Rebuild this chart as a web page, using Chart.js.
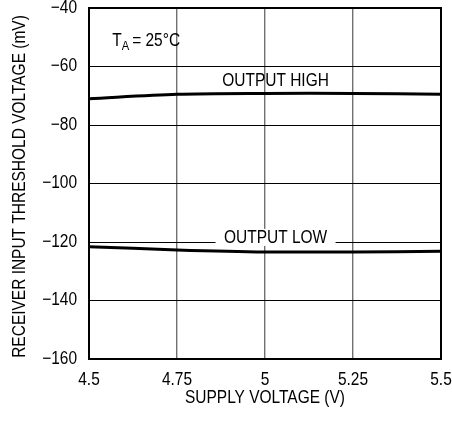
<!DOCTYPE html>
<html>
<head>
<meta charset="utf-8">
<script src="https://cdn.jsdelivr.net/npm/chart.js@4/dist/chart.umd.min.js"></script>
<style>
  html, body { margin: 0; padding: 0; background: #fff; }
  #wrap { width: 452px; height: 421px; }
</style>
</head>
<body>
<div id="wrap"><canvas id="chart" width="452" height="421"></canvas></div>
<script>
const SUPPLY_V = [4.5, 4.75, 5, 5.25, 5.5];
const OUTPUT_HIGH = [-71, -69.5, -69.2, -69.2, -69.5];
const OUTPUT_LOW = [-121.6, -122.7, -123.4, -123.4, -123.2];
const X_TICKS = [4.5, 4.75, 5, 5.25, 5.5];
const X_TITLE = "SUPPLY VOLTAGE (V)";
const Y_TITLE = "RECEIVER INPUT THRESHOLD VOLTAGE (mV)";

const FONT = "'Liberation Sans', Arial, sans-serif";
const SQUEEZE = 0.86; // no narrow face installed, so squeeze horizontally

function narrowText(ctx, text, x, y, size, align, rot) {
  ctx.save();
  ctx.translate(x, y);
  if (rot) ctx.rotate(rot);
  ctx.scale(SQUEEZE, 1);
  ctx.font = `${size}px ${FONT}`;
  ctx.textAlign = align || "center";
  ctx.textBaseline = "middle";
  ctx.fillText(text, 0, 0);
  const w = ctx.measureText(text).width * SQUEEZE;
  ctx.restore();
  return w;
}

// tick labels, axis titles, curve labels, frame
const textLayer = {
  id: "textLayer",
  afterDatasetsDraw(chart) {
    const { ctx, chartArea: a, scales: { x, y } } = chart;
    ctx.save();
    ctx.fillStyle = "#000";

    ctx.strokeStyle = "#000";
    ctx.lineWidth = 2;
    ctx.strokeRect(a.left, a.top, a.right - a.left, a.bottom - a.top);

    y.ticks.forEach((t) => {
      narrowText(ctx, String(t.value).replace("-", "\u2212"), a.left - 12, y.getPixelForValue(t.value), 18, "right");
    });
    x.ticks.forEach((t) => {
      narrowText(ctx, String(t.value), x.getPixelForValue(t.value), a.bottom + 21, 18, "center");
    });

    narrowText(ctx, X_TITLE, (a.left + a.right) / 2, 398, 18, "center");
    narrowText(ctx, Y_TITLE, 20, (a.top + a.bottom) / 2 + 3, 18, "center", -Math.PI / 2);

    narrowText(ctx, "OUTPUT HIGH", x.getPixelForValue(5.03), y.getPixelForValue(-64.8), 18);

    const lx = x.getPixelForValue(5.03), ly = y.getPixelForValue(-118.6);
    ctx.fillStyle = "#fff";
    ctx.fillRect(lx - 60, ly - 9, 120, 17);
    ctx.fillStyle = "#000";
    narrowText(ctx, "OUTPUT LOW", lx, ly, 18);

    // T_A = 25°C with subscript
    let tx = x.getPixelForValue(4.566), ty = y.getPixelForValue(-51.2);
    tx += narrowText(ctx, "T", tx, ty, 18, "left");
    tx += narrowText(ctx, "A", tx, ty + 6, 13, "left") + 3;
    narrowText(ctx, "= 25°C", tx, ty, 18, "left");
    ctx.restore();
  },
};

const lineStyle = { borderColor: "#000", borderWidth: 3, pointRadius: 0, tension: 0.3 };

new Chart(document.getElementById("chart"), {
  type: "line",
  data: {
    datasets: [
      { label: "OUTPUT HIGH", data: SUPPLY_V.map((v, i) => ({ x: v, y: OUTPUT_HIGH[i] })), ...lineStyle },
      { label: "OUTPUT LOW", data: SUPPLY_V.map((v, i) => ({ x: v, y: OUTPUT_LOW[i] })), ...lineStyle },
    ],
  },
  options: {
    responsive: false,
    animation: false,
    layout: { padding: { left: 0, right: 11, top: 8, bottom: 0 } },
    plugins: { legend: { display: false }, tooltip: { enabled: false } },
    scales: {
      x: {
        type: "linear",
        min: 4.5,
        max: 5.5,
        afterBuildTicks: (s) => { s.ticks = X_TICKS.map((v) => ({ value: v })); },
        afterFit: (s) => { s.height = 62; },
        ticks: { display: false },
        grid: { color: "#707070", lineWidth: 1.4, drawTicks: false },
        border: { color: "#000", width: 2 },
      },
      y: {
        min: -160,
        max: -40,
        afterFit: (s) => { s.width = 89; },
        ticks: { display: false, stepSize: 20 },
        grid: { color: "#000", lineWidth: 1, drawTicks: false },
        border: { color: "#000", width: 2 },
      },
    },
  },
  plugins: [textLayer],
});
</script>
</body>
</html>
